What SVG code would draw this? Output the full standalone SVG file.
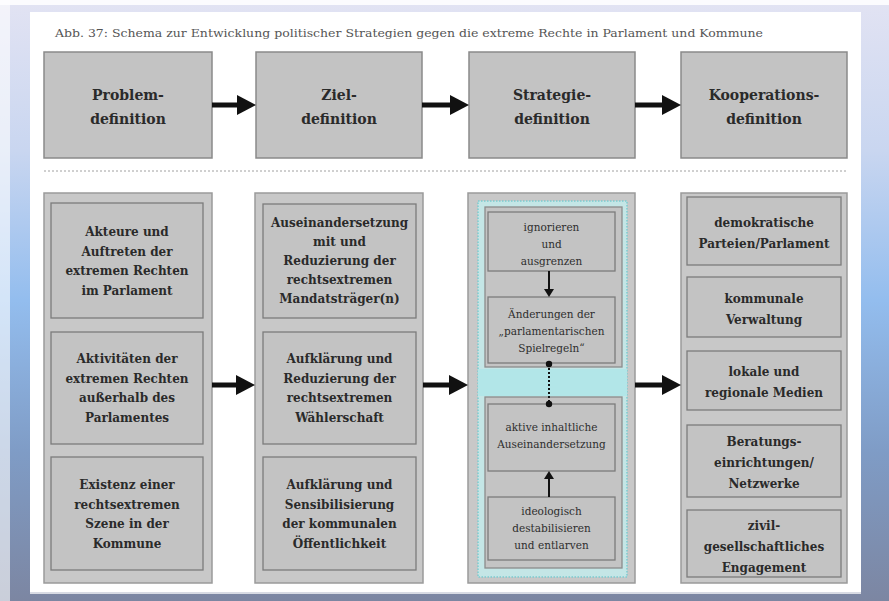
<svg xmlns="http://www.w3.org/2000/svg" width="889" height="601" viewBox="0 0 889 601">
<defs>
<linearGradient id="bg" x1="0" y1="0" x2="0" y2="1">
<stop offset="0" stop-color="#e2e3f3"/>
<stop offset="0.25" stop-color="#c9d6f0"/>
<stop offset="0.5" stop-color="#93bdee"/>
<stop offset="0.75" stop-color="#7f9cc6"/>
<stop offset="1" stop-color="#7c86a2"/>
</linearGradient>
<marker id="big" markerUnits="userSpaceOnUse" markerWidth="20" markerHeight="20" refX="0" refY="10" orient="auto">
<path d="M0,0 L19,10 L0,20 z" fill="#111"/>
</marker>
<marker id="small" markerUnits="userSpaceOnUse" markerWidth="10" markerHeight="10" refX="0" refY="5" orient="auto">
<path d="M0,0 L8,5 L0,10 z" fill="#111"/>
</marker>
<marker id="dot" markerUnits="userSpaceOnUse" markerWidth="8" markerHeight="8" refX="4" refY="4" orient="auto">
<circle cx="4" cy="4" r="3.2" fill="#111"/>
</marker>
</defs>
<style>
.top{fill:#c3c3c3;stroke:#8a8a8a;stroke-width:1.5}
.col{fill:#c8c8c8;stroke:#9a9a9a;stroke-width:1.5}
.box{fill:#c3c3c3;stroke:#7c7c7c;stroke-width:1.3}
.frame{fill:#c4c4c4;stroke:#8c8c8c;stroke-width:1.3}
.t{font-family:"DejaVu Serif","Liberation Serif",serif;font-weight:bold;fill:#2a2a2a;text-anchor:middle}
.t13{font-size:14px}
.t12{font-size:12px}
.r{font-family:"DejaVu Serif","Liberation Serif",serif;font-size:10.5px;fill:#2e2e2e;text-anchor:middle}
.big{stroke:#111;stroke-width:5;fill:none;marker-end:url(#big)}
.sm{stroke:#111;stroke-width:2;fill:none;marker-end:url(#small)}
</style>
<!-- background -->
<rect x="0" y="0" width="889" height="601" fill="url(#bg)"/>
<rect x="0" y="0" width="889" height="5" fill="#ffffff" opacity="0.85"/>
<rect x="0" y="0" width="10" height="601" fill="#ffffff" opacity="0.6"/>
<rect x="30" y="12" width="831" height="582" fill="#ffffff"/>
<rect x="30" y="592" width="831" height="2" fill="#d8dbe4"/>
<text x="55" y="37" font-family="DejaVu Serif, Liberation Serif, serif" font-size="11" fill="#555" textLength="708" lengthAdjust="spacingAndGlyphs">Abb. 37: Schema zur Entwicklung politischer Strategien gegen die extreme Rechte in Parlament und Kommune</text>
<line x1="44" y1="171" x2="847" y2="171" stroke="#a0a0a0" stroke-width="1" stroke-dasharray="2,2"/>

<!-- top row -->
<g id="problemdefinition">
<rect class="top" x="44" y="52" width="168" height="106"/>
<text class="t t13" x="128" y="100">Problem-</text>
<text class="t t13" x="128" y="124">definition</text>
</g>
<g id="zieldefinition">
<rect class="top" x="256" y="52" width="166" height="106"/>
<text class="t t13" x="339" y="100">Ziel-</text>
<text class="t t13" x="339" y="124">definition</text>
</g>
<g id="strategiedefinition">
<rect class="top" x="469" y="52" width="166" height="106"/>
<text class="t t13" x="552" y="100">Strategie-</text>
<text class="t t13" x="552" y="124">definition</text>
</g>
<g id="kooperationsdefinition">
<rect class="top" x="681" y="52" width="166" height="106"/>
<text class="t t13" x="764" y="100">Kooperations-</text>
<text class="t t13" x="764" y="124">definition</text>
</g>

<!-- column 1 -->
<g id="spalte1">
<rect class="col" x="44" y="193" width="168" height="390"/>
</g>
<g id="akteure">
<rect class="box" x="51" y="203" width="152" height="115"/>
<text class="t t12" x="127" y="236">Akteure und</text>
<text class="t t12" x="127" y="255.5">Auftreten der</text>
<text class="t t12" x="127" y="275">extremen Rechten</text>
<text class="t t12" x="127" y="294.5">im Parlament</text>
</g>
<g id="aktivitaeten">
<rect class="box" x="51" y="332" width="152" height="112"/>
<text class="t t12" x="127" y="363">Aktivitäten der</text>
<text class="t t12" x="127" y="382.5">extremen Rechten</text>
<text class="t t12" x="127" y="402">außerhalb des</text>
<text class="t t12" x="127" y="421.5">Parlamentes</text>
</g>
<g id="existenz">
<rect class="box" x="51" y="457" width="152" height="113"/>
<text class="t t12" x="127" y="489">Existenz einer</text>
<text class="t t12" x="127" y="508.5">rechtsextremen</text>
<text class="t t12" x="127" y="528">Szene in der</text>
<text class="t t12" x="127" y="547.5">Kommune</text>
</g>

<!-- column 2 -->
<g id="spalte2">
<rect class="col" x="255" y="193" width="168" height="390"/>
</g>
<g id="auseinandersetzung">
<rect class="box" x="263" y="204" width="153" height="114"/>
<text class="t t12" x="339.5" y="227">Auseinandersetzung</text>
<text class="t t12" x="339.5" y="246">mit und</text>
<text class="t t12" x="339.5" y="265">Reduzierung der</text>
<text class="t t12" x="339.5" y="284">rechtsextremen</text>
<text class="t t12" x="339.5" y="303">Mandatsträger(n)</text>
</g>
<g id="aufklaerung1">
<rect class="box" x="263" y="332" width="153" height="112"/>
<text class="t t12" x="339.5" y="363">Aufklärung und</text>
<text class="t t12" x="339.5" y="382.5">Reduzierung der</text>
<text class="t t12" x="339.5" y="402">rechtsextremen</text>
<text class="t t12" x="339.5" y="421.5">Wählerschaft</text>
</g>
<g id="aufklaerung2">
<rect class="box" x="263" y="457" width="153" height="113"/>
<text class="t t12" x="339.5" y="489">Aufklärung und</text>
<text class="t t12" x="339.5" y="508.5">Sensibilisierung</text>
<text class="t t12" x="339.5" y="528">der kommunalen</text>
<text class="t t12" x="339.5" y="547.5">Öffentlichkeit</text>
</g>

<!-- column 3 -->
<g id="spalte3">
<rect class="col" x="468" y="193" width="167" height="390"/>
<rect x="478" y="201" width="149" height="376" fill="#c4e6e6" stroke="#7ccace" stroke-width="1.5" stroke-dasharray="1.5,1.5"/>
<rect x="478" y="369" width="149" height="27" fill="#b2e6e8"/>
<rect class="frame" x="485" y="207" width="137" height="160"/>
<rect class="frame" x="485" y="397" width="137" height="171"/>
</g>
<g id="ignorieren">
<rect class="box" x="488" y="212" width="127" height="59"/>
<text class="r" x="551.5" y="231">ignorieren</text>
<text class="r" x="551.5" y="248">und</text>
<text class="r" x="551.5" y="265">ausgrenzen</text>
</g>
<g id="spielregeln">
<rect class="box" x="488" y="297" width="127" height="66"/>
<text class="r" x="551.5" y="318">Änderungen der</text>
<text class="r" x="551.5" y="335">„parlamentarischen</text>
<text class="r" x="551.5" y="352">Spielregeln“</text>
</g>
<g id="aktive">
<rect class="box" x="488" y="404" width="127" height="67"/>
<text class="r" x="551.5" y="431">aktive inhaltliche</text>
<text class="r" x="551.5" y="448">Auseinandersetzung</text>
</g>
<g id="ideologisch">
<rect class="box" x="488" y="497" width="127" height="63"/>
<text class="r" x="551.5" y="515">ideologisch</text>
<text class="r" x="551.5" y="532">destabilisieren</text>
<text class="r" x="551.5" y="549">und entlarven</text>
</g>

<!-- column 4 -->
<g id="spalte4">
<rect class="col" x="681" y="193" width="166" height="390"/>
</g>
<g id="parteien">
<rect class="box" x="687" y="197" width="154" height="68"/>
<text class="t t12" x="764" y="227">demokratische</text>
<text class="t t12" x="764" y="248">Parteien/Parlament</text>
</g>
<g id="verwaltung">
<rect class="box" x="687" y="277" width="154" height="60"/>
<text class="t t12" x="764" y="303">kommunale</text>
<text class="t t12" x="764" y="324">Verwaltung</text>
</g>
<g id="medien">
<rect class="box" x="687" y="351" width="154" height="59"/>
<text class="t t12" x="764" y="376">lokale und</text>
<text class="t t12" x="764" y="397">regionale Medien</text>
</g>
<g id="beratung">
<rect class="box" x="687" y="425" width="154" height="72"/>
<text class="t t12" x="764" y="446">Beratungs-</text>
<text class="t t12" x="764" y="467">einrichtungen/</text>
<text class="t t12" x="764" y="488">Netzwerke</text>
</g>
<g id="zivil">
<rect class="box" x="687" y="510" width="154" height="67"/>
<text class="t t12" x="764" y="530">zivil-</text>
<text class="t t12" x="764" y="551">gesellschaftliches</text>
<text class="t t12" x="764" y="572">Engagement</text>
</g>

<!-- connectors -->
<g id="connectors">
<line class="big" x1="212" y1="105" x2="237" y2="105"/>
<line class="big" x1="422" y1="105" x2="450" y2="105"/>
<line class="big" x1="635" y1="105" x2="662" y2="105"/>
<line class="big" x1="212" y1="385" x2="236" y2="385"/>
<line class="big" x1="423" y1="385" x2="449" y2="385"/>
<line class="big" x1="635" y1="385" x2="662" y2="385"/>
<line class="sm" x1="549" y1="271" x2="549" y2="289"/>
<line x1="549" y1="364" x2="549" y2="404" stroke="#111" stroke-width="2" stroke-dasharray="2,2" marker-start="url(#dot)" marker-end="url(#dot)"/>
<line class="sm" x1="549" y1="497" x2="549" y2="479"/>
</g>
</svg>
